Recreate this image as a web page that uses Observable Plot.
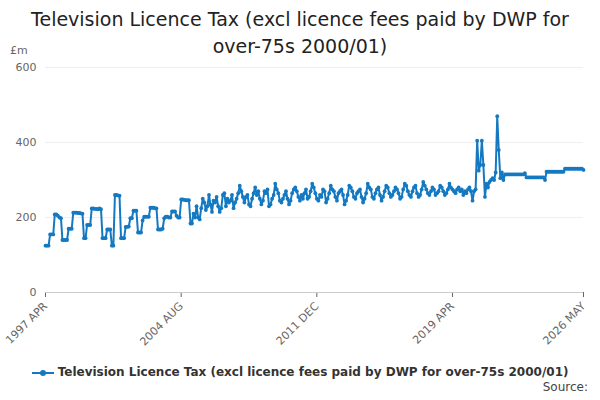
<!DOCTYPE html>
<html><head><meta charset="utf-8">
<script src="https://cdn.jsdelivr.net/npm/d3@7"></script>
<script src="https://cdn.jsdelivr.net/npm/@observablehq/plot@0.6"></script>
<style>
body{margin:0;font-family:"DejaVu Sans",sans-serif;background:#fff;}
#wrap{position:relative;width:600px;height:400px;}
#title{position:absolute;top:6px;left:0;width:600px;text-align:center;font-size:19px;line-height:27px;color:#222;}
#unit{position:absolute;top:44px;left:10px;font-size:11px;color:#666;}
#chart{position:absolute;top:58px;left:0;}
#legend{position:absolute;top:365px;left:0;width:600px;text-align:center;font-size:12px;font-weight:bold;color:#333;}
#source{position:absolute;top:380px;right:12px;font-size:12px;color:#444;}
</style></head><body>
<div id="wrap">
<div id="title">Television Licence Tax (excl licence fees paid by DWP for<br>over-75s 2000/01)</div>
<div id="unit">£m</div>
<div id="chart"></div>
<div id="legend"><svg width="22" height="10" style="vertical-align:middle"><line x1="0" y1="5" x2="22" y2="5" stroke="#1479c1" stroke-width="2"/><circle cx="11" cy="5" r="3" fill="#1479c1"/></svg> Television Licence Tax (excl licence fees paid by DWP for over-75s 2000/01)</div>
<div id="source">Source:</div>
</div>
<script>
const startMonth = "1997-04";
const seriesName = "Television Licence Tax (excl licence fees paid by DWP for over-75s 2000/01)";
const values = [
125,125,125,155,155,155,208,208,205,200,198,140,140,140,140,170,170,170,
213,213,213,212,212,211,210,145,145,180,180,180,224,224,223,223,222,224,222,
145,145,145,168,168,168,125,125,260,260,259,258,145,145,145,175,175,176,
198,198,218,218,218,160,160,160,192,202,202,202,202,226,226,226,225,224,
168,168,168,170,198,202,202,200,200,216,216,216,205,200,200,248,248,247,246,246,246,
184,184,210,200,
230,200,195,225,250,240,220,230,260,235,215,245,
240,255,230,215,225,260,265,230,250,240,245,260,
225,240,250,265,285,270,255,240,255,260,235,230,
250,265,280,260,270,250,235,245,270,265,275,230,
235,250,260,290,275,265,245,240,250,260,270,250,
235,245,265,275,280,270,255,245,260,250,265,275,
250,255,270,290,280,265,250,245,260,255,275,270,
240,250,265,285,275,270,255,245,265,270,275,260,
235,245,260,285,280,270,255,250,265,270,275,255,
240,250,265,290,280,275,255,250,265,275,280,260,
245,255,270,285,280,265,255,260,270,280,275,265,
250,255,275,290,285,270,260,255,270,280,285,265,
255,260,275,295,285,275,265,260,270,280,275,260,
265,270,285,280,270,260,265,275,290,280,275,270,
265,275,280,270,275,260,270,265,275,280,270,
245,270,275,405,325,340,405,340,255,290,280,295,300,305,300,320,470,380,305,320,300,
315,315,315,315,315,315,315,315,315,315,315,315,315,318,
307,307,307,307,307,307,307,307,307,307,307,307,300,
322,322,322,322,322,322,322,322,322,322,322,322,
330,330,330,330,330,330,330,330,330,330,330,330,327
];
const xTicks = ["1997-04","2004-08","2011-12","2019-04","2026-05"];
const yTicks = [0,200,400,600];
const months = ["JAN","FEB","MAR","APR","MAY","JUN","JUL","AUG","SEP","OCT","NOV","DEC"];
const t0 = new Date(startMonth + "-01T00:00:00Z");
const data = values.map((v,i)=>({date:d3.utcMonth.offset(t0,i), value:v}));
const chart = Plot.plot({
  width:600, height:292, marginLeft:45, marginRight:17, marginTop:9, marginBottom:58,
  style:{fontFamily:"DejaVu Sans, sans-serif", fontSize:"11px", color:"#666"},
  x:{type:"utc", domain:[t0, data[data.length-1].date], ticks:xTicks.map(s=>new Date(s+"-01T00:00:00Z")),
     tickFormat:d=>d.getUTCFullYear()+" "+months[d.getUTCMonth()], tickRotate:-45, label:null, tickSize:5},
  y:{domain:[0,600], ticks:yTicks, grid:true, label:null, tickSize:0},
  marks:[
    Plot.ruleY([0],{stroke:"#ccc"}),
    Plot.line(data,{x:"date",y:"value",stroke:"#1479c1",strokeWidth:2}),
    Plot.dot(data,{x:"date",y:"value",fill:"#1479c1",r:1.9})
  ]
});
document.getElementById("chart").appendChild(chart);
</script>
</body></html>
